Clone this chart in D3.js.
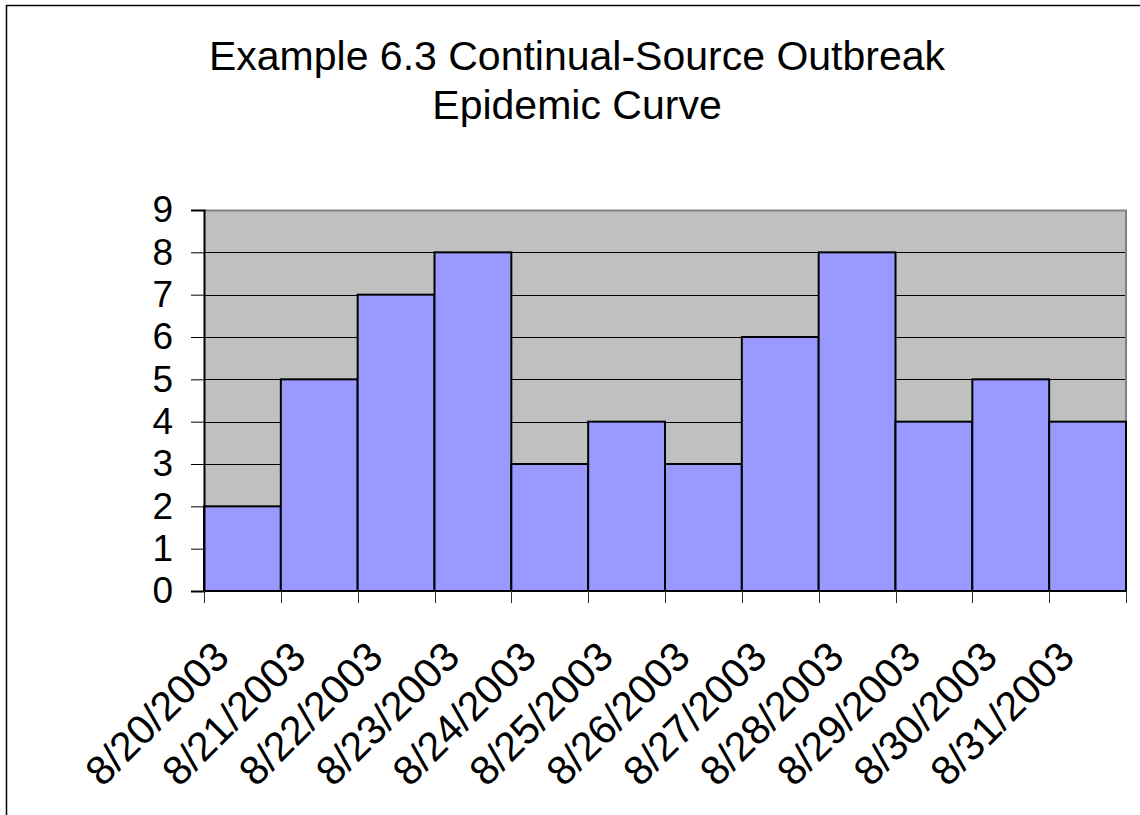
<!DOCTYPE html>
<html>
<head>
<meta charset="utf-8">
<script src="https://cdn.jsdelivr.net/npm/d3@7"></script>
<style>
html,body{margin:0;padding:0;background:#fff;}
svg{display:block;font-family:"Liberation Sans",Arial,sans-serif;}
</style>
</head>
<body>
<svg id="chart" width="1140" height="815"></svg>
<script>
const titleLines = ["Example 6.3 Continual-Source Outbreak", "Epidemic Curve"];
const categories = ["8/20/2003","8/21/2003","8/22/2003","8/23/2003","8/24/2003","8/25/2003","8/26/2003","8/27/2003","8/28/2003","8/29/2003","8/30/2003","8/31/2003"];
const cases = [2,5,7,8,3,4,3,6,8,4,5,4];
const yTicks = [0,1,2,3,4,5,6,7,8,9];

const svg = d3.select("#chart");
const W = 1140, H = 815;
const plot = {left: 204, right: 1126, top: 210, bottom: 591};

// outer frame (extends past the viewport on right/bottom)
svg.append("rect").attr("x", 6.5).attr("y", 5.5).attr("width", W + 20).attr("height", H + 20)
  .attr("fill", "#fff").attr("stroke", "#000").attr("stroke-width", 1.5);

// title
svg.append("g").selectAll("text").data(titleLines).join("text")
  .attr("x", 577).attr("y", (d, i) => 70 + i * 49)
  .attr("text-anchor", "middle").attr("font-size", 41).attr("fill", "#000")
  .text(d => d);

const x = d3.scaleBand().domain(categories).range([plot.left, plot.right]).padding(0);
const y = d3.scaleLinear().domain([0, 9]).range([plot.bottom, plot.top]);

// plot background
svg.append("rect").attr("x", plot.left).attr("y", plot.top)
  .attr("width", plot.right - plot.left).attr("height", plot.bottom - plot.top)
  .attr("fill", "#c0c0c0");

// gridlines
svg.append("g").selectAll("line").data(yTicks.filter(t => t > 0 && t < 9)).join("line")
  .attr("x1", plot.left).attr("x2", plot.right)
  .attr("y1", d => Math.round(y(d)) + 0.5).attr("y2", d => Math.round(y(d)) + 0.5)
  .attr("stroke", "#000").attr("stroke-width", 1);

// top & right border (gray)
svg.append("path")
  .attr("d", `M${plot.left},${plot.top + 0.5}H${plot.right}V${plot.bottom}`)
  .attr("fill", "none").attr("stroke", "#808080").attr("stroke-width", 2);

// bars
svg.append("g").selectAll("rect").data(cases).join("rect")
  .attr("x", (d, i) => x(categories[i]))
  .attr("y", d => y(d))
  .attr("width", x.bandwidth())
  .attr("height", d => y(0) - y(d))
  .attr("fill", "#9999ff").attr("stroke", "#000").attr("stroke-width", 2);

// y axis
const yAxis = svg.append("g").attr("transform", `translate(${plot.left},0)`)
  .call(d3.axisLeft(y).tickValues(yTicks).tickSize(13).tickPadding(18).tickFormat(d3.format("d")));
yAxis.select(".domain").attr("stroke", "#000").attr("stroke-width", 2);
yAxis.selectAll(".tick line").attr("stroke", "#000");
yAxis.selectAll(".tick text").attr("font-size", 37).attr("fill", "#000")
  .attr("font-family", "Liberation Sans, Arial, sans-serif");

// x axis with tick marks at category boundaries
const xb = svg.append("g");
xb.append("line").attr("x1", plot.left).attr("x2", plot.right)
  .attr("y1", plot.bottom).attr("y2", plot.bottom).attr("stroke", "#000").attr("stroke-width", 2);
const bounds = categories.map(c => x(c)).concat([x(categories[categories.length - 1]) + x.bandwidth()]);
xb.selectAll("line.tk").data(bounds).join("line").attr("class", "tk")
  .attr("x1", d => Math.round(d) + 0.5).attr("x2", d => Math.round(d) + 0.5)
  .attr("y1", plot.bottom).attr("y2", plot.bottom + 12)
  .attr("stroke", "#333").attr("stroke-width", 1);

// rotated category labels
xb.selectAll("text").data(categories).join("text")
  .attr("transform", d => `translate(${x(d) + x.bandwidth() / 2 - 11},${plot.bottom + 68}) rotate(-45)`)
  .attr("text-anchor", "end").attr("font-size", 41).attr("fill", "#000")
  .text(d => d);
</script>
</body>
</html>
